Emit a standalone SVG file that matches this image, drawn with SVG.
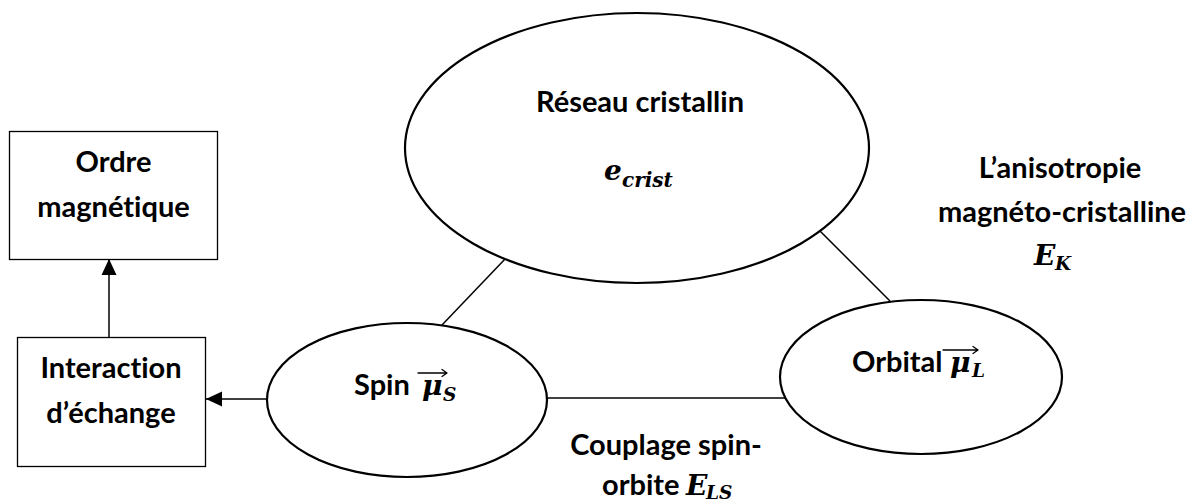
<svg xmlns="http://www.w3.org/2000/svg" width="1196" height="504" viewBox="0 0 1196 504">
  <defs>
    <style>
      .box { fill: #ffffff; stroke: #000000; stroke-width: 1.3; }
      .ell { fill: #ffffff; stroke: #000000; stroke-width: 2.2; }
      .link { fill: none; stroke: #000000; stroke-width: 1.5; }
      .vec { fill: none; stroke: #000000; stroke-width: 1.3; stroke-linecap: round; stroke-linejoin: round; }
      .lbl { font-family: Lato, "Liberation Sans", sans-serif; font-weight: 700; font-size: 29px; fill: #000000;
             font-variant-ligatures: none; font-feature-settings: "liga" 0, "clig" 0, "dlig" 0; }
      .mid { text-anchor: middle; }
      .math { font-family: "DejaVu Serif", "Liberation Serif", serif; font-weight: 700; font-style: italic; fill: #000000; }
      .big { font-size: 28px; }
      .sub { font-size: 20px; }
      .subcap { font-size: 18.5px; }
    </style>
    <marker id="arrowhead" markerUnits="userSpaceOnUse" viewBox="0 0 16 16" markerWidth="16" markerHeight="16" refX="16" refY="8" orient="auto">
      <path d="M0,0.5 L16,8 L0,15.5 Z" fill="#000000"/>
    </marker>
  </defs>

  <rect x="0" y="0" width="1196" height="504" fill="#ffffff"/>

  <!-- connectors -->
  <g id="connectors">
    <line class="link" x1="109" y1="337" x2="109" y2="259" marker-end="url(#arrowhead)"/>
    <line class="link" x1="267" y1="399" x2="206" y2="399" marker-end="url(#arrowhead)"/>
    <line class="link" x1="506" y1="258" x2="442" y2="325"/>
    <line class="link" x1="820" y1="231" x2="890" y2="301"/>
    <line class="link" x1="547" y1="398" x2="785" y2="398"/>
  </g>

  <!-- magnetic order -->
  <g id="ordre-magnetique">
    <rect class="box" x="9.5" y="131.5" width="208" height="128"/>
    <text class="lbl mid" x="113.5" y="172">Ordre</text>
    <text class="lbl mid" x="113.5" y="217">magnétique</text>
  </g>

  <!-- exchange interaction -->
  <g id="interaction-echange">
    <rect class="box" x="17.5" y="337.5" width="188" height="129"/>
    <text class="lbl mid" x="111" y="378">Interaction</text>
    <text class="lbl mid" x="111" y="423">d’échange</text>
  </g>

  <!-- crystal lattice -->
  <g id="reseau-cristallin">
    <ellipse class="ell" cx="637" cy="148" rx="232" ry="135"/>
    <text class="lbl mid" x="640" y="112">Réseau cristallin</text>
    <text class="math big" x="604" y="180">e</text>
    <text class="math sub" x="622" y="187">crist</text>
  </g>

  <!-- spin moment -->
  <g id="spin">
    <ellipse class="ell" cx="407" cy="400" rx="140" ry="77"/>
    <text class="lbl" x="354" y="395">Spin</text>
    <path class="vec" d="M418,373 H447 M442,369.5 L447,373 L442,376.5"/>
    <text class="math big" x="422" y="395">μ</text>
    <text class="math subcap" x="443" y="401">S</text>
  </g>

  <!-- orbital moment -->
  <g id="orbital">
    <ellipse class="ell" cx="921" cy="377" rx="141" ry="77"/>
    <text class="lbl" x="852" y="372">Orbital</text>
    <path class="vec" d="M943,350 H978 M973,346.5 L978,350 L973,353.5"/>
    <text class="math big" x="950" y="372">μ</text>
    <text class="math subcap" x="972" y="377">L</text>
  </g>

  <!-- spin-orbit coupling -->
  <g id="couplage-spin-orbite">
    <text class="lbl mid" x="666" y="455">Couplage spin-</text>
    <text class="lbl" x="602" y="495">orbite</text>
    <text class="math big" x="686" y="495">E</text>
    <text class="math subcap" x="706" y="499">LS</text>
  </g>

  <!-- magnetocrystalline anisotropy -->
  <g id="anisotropie">
    <text class="lbl mid" x="1060" y="178">L’anisotropie</text>
    <text class="lbl mid" x="1062" y="222">magnéto-cristalline</text>
    <text class="math big" x="1034" y="265">E</text>
    <text class="math subcap" x="1055" y="270">K</text>
  </g>
</svg>
